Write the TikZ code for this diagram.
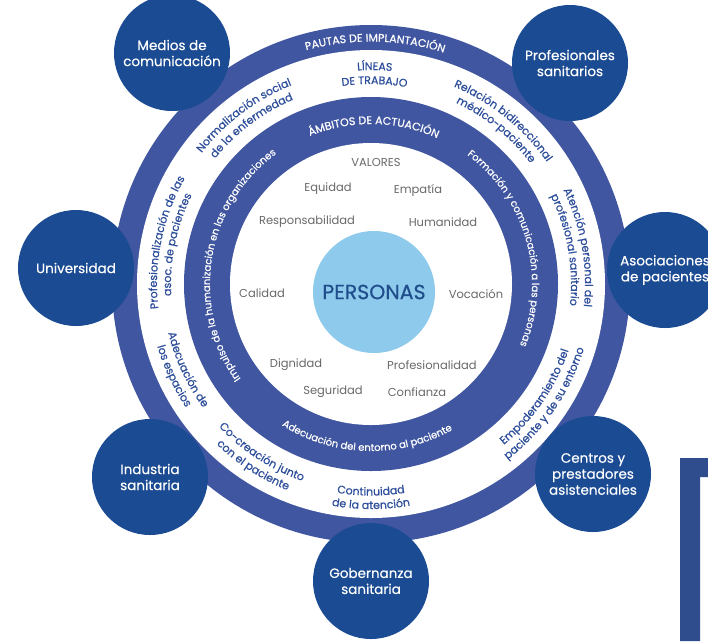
\documentclass[tikz,border=0pt]{standalone}
\usepackage{fontspec}
\setmainfont{Poppins}
\newfontfamily\medfont{Poppins}[FakeBold=0.6]
\newfontfamily\satfont{Poppins}[FakeBold=0.3]
\usetikzlibrary{decorations.text}
\definecolor{bandblue}{RGB}{64,86,160}
\definecolor{satblue}{RGB}{27,75,146}
\definecolor{coreblue}{RGB}{142,202,236}
\definecolor{coretext}{RGB}{32,78,140}
\definecolor{valgray}{RGB}{105,105,105}
\definecolor{ringtext}{RGB}{45,78,155}
\definecolor{framblue}{RGB}{47,77,140}
\newcommand\arcTop[5]{% angle, baseline radius, format, text, half span
  \pgfmathsetmacro\myStartA{#1+#5}\pgfmathsetmacro\myEndA{#1-#5}%
  \path[decorate,decoration={text along path,text align=center,text={|#3|#4}}]
    (\myStartA:#2) arc[start angle=\myStartA,end angle=\myEndA,radius=#2];}
\newcommand\arcBot[5]{%
  \pgfmathsetmacro\myStartA{#1-#5}\pgfmathsetmacro\myEndA{#1+#5}%
  \path[decorate,decoration={text along path,text align=center,text={|#3|#4}}]
    (\myStartA:#2) arc[start angle=\myStartA,end angle=\myEndA,radius=#2];}
\newcommand\fBand{\medfont\fontsize{11}{12}\selectfont\color{white}}
\newcommand\fMid{\medfont\fontsize{10}{11}\selectfont\color{white}}
\newcommand\fRing{\medfont\fontsize{11}{12}\selectfont\color{ringtext}}
\begin{document}
\begin{tikzpicture}[x=1pt,y=1pt,
  satnode/.style={circle, fill=satblue, minimum size=116pt, inner sep=0pt, text=white, align=center, font=\satfont\fontsize{13.5}{16}\selectfont},
  valnode/.style={text=valgray, font=\fontsize{11.5}{13}\selectfont, inner sep=0pt}]
\clip (-371,-357) rectangle (337,284);
\useasboundingbox (-371,-357) rectangle (337,284);
\fill[white] (-371,-357) rectangle (337,284);
% rings
\fill[bandblue] (0,0) circle[radius=259];
\fill[white] (0,0) circle[radius=234];
\fill[bandblue] (0,0) circle[radius=187];
\fill[white] (0,0) circle[radius=141];
\node[circle, fill=coreblue, minimum size=122pt, inner sep=0pt, text=coretext, font=\medfont\fontsize{20.5}{22}\selectfont] (personas) at (3,-8) {PERSONAS};
% values
\node[valnode] (valores) at (5,122) {VALORES};
\node[valnode] (equidad) at (-43,95) {Equidad};
\node[valnode] (empatia) at (47,94) {Empatía};
\node[valnode] (resp) at (-64,62) {Responsabilidad};
\node[valnode] (human) at (72,62) {Humanidad};
\node[valnode] (calidad) at (-109,-9) {Calidad};
\node[valnode] (vocacion) at (105,-10) {Vocación};
\node[valnode] (dignidad) at (-75,-81) {Dignidad};
\node[valnode] (profes) at (61,-81) {Profesionalidad};
\node[valnode] (seguridad) at (-38,-108) {Seguridad};
\node[valnode] (confianza) at (46,-108) {Confianza};
% outer band
\arcTop{89}{242.5}{\fBand}{PAUTAS DE IMPLANTACIÓN}{85}
% middle band
\arcTop{89}{160}{\fBand}{ÁMBITOS DE ACTUACIÓN}{85}
\arcTop{171}{161}{\fMid}{Impulso de la humanización en las organizaciones}{85}
\arcTop{15.5}{161}{\fMid}{Formación y comunicación a las personas}{85}
\arcBot{268.5}{167}{\fMid}{Adecuación del entorno al paciente}{85}
% white ring
\arcTop{89}{214}{\fRing}{LÍNEAS}{85}
\arcTop{89}{200}{\fRing}{DE TRABAJO}{85}
\arcTop{127}{214}{\fRing}{Normalización social}{85}
\arcTop{127}{200}{\fRing}{de la enfermedad}{85}
\arcTop{51}{214}{\fRing}{Relación bidireccional}{85}
\arcTop{51}{200}{\fRing}{médico-paciente}{85}
\arcTop{10}{214}{\fRing}{Atención personal del}{85}
\arcTop{10}{200}{\fRing}{profesional sanitario}{85}
\arcBot{-34.5}{208.5}{\fRing}{Empoderamiento del}{85}
\arcBot{-34.5}{222.5}{\fRing}{paciente y de su entorno}{85}
\arcBot{-90}{211.5}{\fRing}{Continuidad}{85}
\arcBot{-90}{225}{\fRing}{de la atención}{85}
\arcBot{-123}{208.5}{\fRing}{Co-creación junto}{85}
\arcBot{-123}{222.5}{\fRing}{con el paciente}{85}
\arcBot{-155}{208.5}{\fRing}{Adecuación de}{85}
\arcBot{-155}{222.5}{\fRing}{los espacios}{85}
\arcTop{168.5}{214}{\fRing}{Profesionalización de las}{85}
\arcTop{168.5}{200}{\fRing}{asoc. de pacientes}{85}
% satellites
\node[satnode] (medios) at (-199,231) {Medios de\\comunicación};
\node[satnode] (profsan) at (199,221) {Profesionales\\sanitarios};
\node[satnode] (univ) at (-295,16) {Universidad};
\node[satnode] (asoc) at (294,14) {Asociaciones\\de pacientes};
\node[satnode] (industria) at (-221,-193) {Industria\\sanitaria};
\node[satnode] (gobern) at (0,-297) {Gobernanza\\sanitaria};
\node[satnode] (centros) at (222,-190) {Centros y\\prestadores\\asistenciales};
% frame at bottom right
\fill[framblue] (309,-174) -- (337,-174) -- (337,-193) -- (329,-193) -- (329,-357) -- (309,-357) -- cycle;
\end{tikzpicture}
\end{document}
